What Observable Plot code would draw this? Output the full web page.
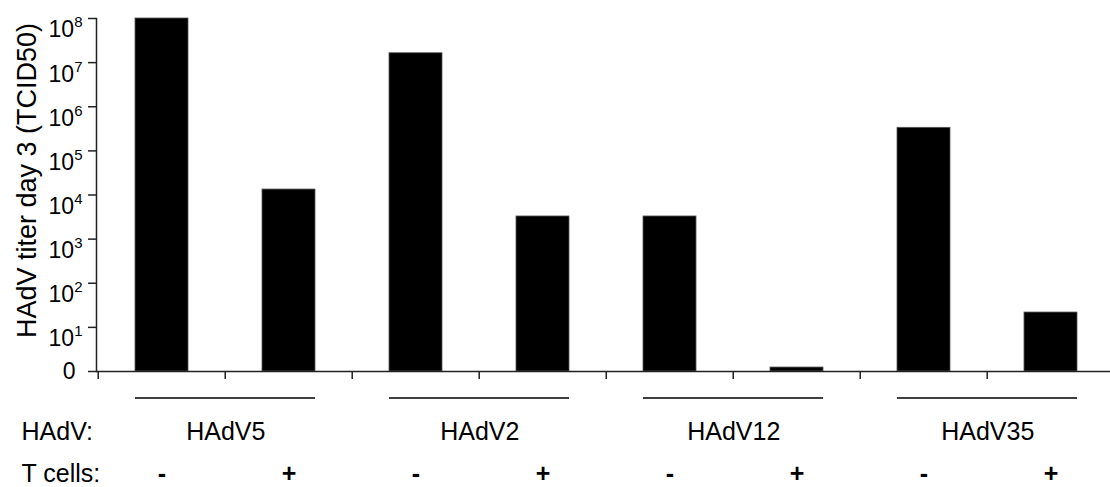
<!DOCTYPE html>
<html><head><meta charset="utf-8">
<script src="https://cdn.jsdelivr.net/npm/d3@7"></script>
<script src="https://cdn.jsdelivr.net/npm/@observablehq/plot@0.6"></script>
<style>
html,body{margin:0;padding:0;background:#fff;}
</style>
</head><body>
<div id="chart"></div>
<script>
const groups = ["HAdV5", "HAdV2", "HAdV12", "HAdV35"];
const tcells = ["-", "+"];
const titers = [1e8, 1.33e4, 1.63e7, 3.26e3, 3.26e3, 1.23, 3.33e5, 21.7];
const yTicks = [1, 1e1, 1e2, 1e3, 1e4, 1e5, 1e6, 1e7, 1e8];
const yTitle = "HAdV titer day 3 (TCID50)";
const rowLabelVirus = "HAdV:";
const rowLabelT = "T cells:";

const data = titers.map((v, i) => ({
  key: groups[Math.floor(i / 2)] + " " + tcells[i % 2],
  group: groups[Math.floor(i / 2)],
  tcell: tcells[i % 2],
  value: v
}));
const keys = data.map(d => d.key);
const groupData = groups.map((g, j) => ({group: g, first: keys[2 * j], last: keys[2 * j + 1]}));

const W = 1110, H = 487, ML = 96, MT = 18, MB = 116;
const step = 127.57;
const font = "'Liberation Sans', Arial, Helvetica, sans-serif";

const chart = Plot.plot({
  width: W, height: H,
  marginLeft: ML, marginRight: 0, marginTop: MT, marginBottom: MB,
  style: {fontFamily: font, fontSize: "25px", color: "#000", background: "#fff", overflow: "visible"},
  x: {type: "band", domain: keys, range: [ML, ML + 8 * step], paddingInner: 0.585, paddingOuter: 0.2925, align: 0.5},
  y: {type: "log", domain: [1, 1e8], range: [H - MB, MT]},
  marks: [
    Plot.barY(data, {x: "key", y1: 1, y2: "value", fill: "#000", stroke: "#555", strokeWidth: 0.8}),
    Plot.ruleY([1], {stroke: "#222", strokeWidth: 1.5}),
    Plot.frame({anchor: "left", stroke: "#222", strokeWidth: 1.5}),
    Plot.axisX({tickSize: 8, dx: -step / 2, tickFormat: () => "", stroke: "#222", strokeWidth: 1.5, label: null}),
    Plot.axisY({ticks: yTicks, tickSize: 8, tickPadding: 6, fontSize: 23,
      tickFormat: d => d === 1 ? "0" : "10^" + Math.round(Math.log10(d)),
      stroke: "#222", strokeWidth: 1.5, label: null}),
    Plot.ruleY(groupData, {x1: "first", x2: "last", y: 1, dy: 26.5, stroke: "#000", strokeWidth: 1.5}),
    Plot.text(groupData, {x: "first", y: 1, text: "group", dx: step / 2, dy: 68, lineAnchor: "bottom", fontSize: 25}),
    Plot.text(data, {x: "key", y: 1, text: "tcell", dy: 110, lineAnchor: "bottom", fontSize: 25, fontWeight: "bold"}),
    Plot.text([rowLabelVirus], {frameAnchor: "bottom-left", text: d => d, textAnchor: "start", dx: 21 - ML, dy: 68, lineAnchor: "bottom", fontSize: 25}),
    Plot.text([rowLabelT], {frameAnchor: "bottom-left", text: d => d, textAnchor: "start", dx: 21 - ML, dy: 110, lineAnchor: "bottom", fontSize: 25}),
    Plot.text([yTitle], {frameAnchor: "left", text: d => d, rotate: -90, textAnchor: "middle", dx: 35 - ML, dy: -14.5, lineAnchor: "bottom", fontSize: 27})
  ]
});

d3.select(chart).selectAll('[aria-label="y-axis tick label"] text').each(function () {
  const s = this.textContent;
  const t = d3.select(this);
  if (s.includes("^")) {
    const [b, e] = s.split("^");
    t.text(null);
    t.attr("dy", "0.5em");
    t.append("tspan").text(b);
    t.append("tspan").attr("font-size", 15).attr("dy", -10).text(e);
  } else {
    t.attr("dx", -7);
  }
});

document.getElementById("chart").appendChild(chart);
</script>
</body></html>
